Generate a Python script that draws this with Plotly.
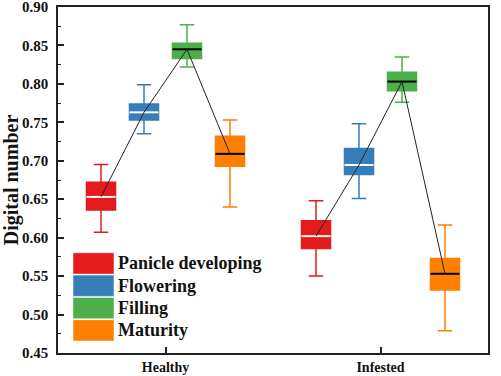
import plotly.graph_objects as go

groups = ["Healthy", "Infested"]
stages = ["Panicle developing", "Flowering", "Filling", "Maturity"]
colors = ["#E41A1C", "#377EB8", "#4DAF4A", "#FF7F00"]
median_colors = ["white", "white", "black", "black"]

# values per stage: [Healthy, Infested]
upper_panicle = [0.695, 0.648]
q3_panicle = [0.672, 0.622]
median_panicle = [0.653, 0.602]
q1_panicle = [0.636, 0.586]
lower_panicle = [0.607, 0.550]

upper_flowering = [0.799, 0.748]
q3_flowering = [0.774, 0.716]
median_flowering = [0.763, 0.6945]
q1_flowering = [0.753, 0.682]
lower_flowering = [0.735, 0.651]

upper_filling = [0.877, 0.835]
q3_filling = [0.853, 0.815]
median_filling = [0.845, 0.803]
q1_filling = [0.833, 0.791]
lower_filling = [0.822, 0.776]

upper_maturity = [0.753, 0.6165]
q3_maturity = [0.732, 0.573]
median_maturity = [0.709, 0.553]
q1_maturity = [0.693, 0.532]
lower_maturity = [0.640, 0.479]

y_ticks = [0.45, 0.50, 0.55, 0.60, 0.65, 0.70, 0.75, 0.80, 0.85, 0.90]

stats = [
    (upper_panicle, q3_panicle, median_panicle, q1_panicle, lower_panicle),
    (upper_flowering, q3_flowering, median_flowering, q1_flowering, lower_flowering),
    (upper_filling, q3_filling, median_filling, q1_filling, lower_filling),
    (upper_maturity, q3_maturity, median_maturity, q1_maturity, lower_maturity),
]

FONT = "Times New Roman, Liberation Serif, serif"
slot = 0.2
box_w = 0.135
offsets = [(i - 1.5) * slot for i in range(len(stages))]

fig = go.Figure()

positions = []
for i, (st, (up, q3, med, q1, lo)) in enumerate(zip(stages, stats)):
    xs = [g + offsets[i] for g in range(len(groups))]
    positions.append(xs)
    fig.add_trace(go.Box(
        x=xs, q1=q1, median=med, q3=q3, lowerfence=lo, upperfence=up,
        width=box_w, whiskerwidth=0.5, fillcolor=colors[i],
        line=dict(color=colors[i], width=1.5), name=st, showlegend=False,
        hoverinfo="skip",
    ))

# median segments
for i, (st, (up, q3, med, q1, lo)) in enumerate(zip(stages, stats)):
    mx, my = [], []
    for g in range(len(groups)):
        x = positions[i][g]
        mx += [x - box_w / 2, x + box_w / 2, None]
        my += [med[g], med[g], None]
    fig.add_trace(go.Scatter(x=mx, y=my, mode="lines",
                             line=dict(color=median_colors[i], width=2),
                             showlegend=False, hoverinfo="skip"))

# connecting lines through medians
for g in range(len(groups)):
    fig.add_trace(go.Scatter(
        x=[positions[i][g] for i in range(len(stages))],
        y=[stats[i][2][g] for i in range(len(stages))],
        mode="lines", line=dict(color="#222222", width=1),
        showlegend=False, hoverinfo="skip"))

# manual legend (paper coords)
L, R, T, B = 58, 488, 7, 353
W, H = R - L, B - T
def px_x(p): return (p - L) / W
def px_y(p): return (B - p) / H

row_top = 252.3
row_h = 22.3
shapes = []
annotations = []
for i, st in enumerate(stages):
    t = row_top + i * row_h
    shapes.append(dict(type="rect", xref="paper", yref="paper",
                       x0=px_x(73), x1=px_x(114), y0=px_y(t + row_h - 0.5), y1=px_y(t + 0.5),
                       fillcolor=colors[i], line=dict(color="rgba(255,255,255,0.5)", width=1),
                       layer="above"))
    annotations.append(dict(xref="paper", yref="paper", x=px_x(116), y=px_y(t + row_h / 2),
                            xanchor="left", yanchor="middle", showarrow=False,
                            text=st, font=dict(family=FONT, size=18, color="#111111", weight="bold")))

fig.update_layout(
    width=501, height=376,
    margin=dict(l=L, r=501 - R, t=T, b=376 - B, autoexpand=False),
    paper_bgcolor="white", plot_bgcolor="white",
    shapes=shapes, annotations=annotations,
    boxmode="overlay",
    xaxis=dict(range=[-0.5, 1.5], tickvals=[0, 1], ticktext=groups,
               ticks="inside", ticklen=6, tickwidth=1.5, tickcolor="#222",
               showline=True, linecolor="#222", linewidth=1.5, mirror=True,
               showgrid=False, zeroline=False, automargin=False,
               tickfont=dict(family=FONT, size=14, color="#111", weight="bold")),
    yaxis=dict(range=[0.45, 0.90], tickmode="array", tickvals=y_ticks,
               ticktext=[f"{v:.2f}" for v in y_ticks],
               ticks="inside", ticklen=6, tickwidth=1.5, tickcolor="#222",
               ticklabeloverflow="allow",
               minor=dict(ticks="inside", ticklen=3, tickwidth=1, tickcolor="#222",
                          tickmode="linear", tick0=0.425, dtick=0.05),
               showline=True, linecolor="#222", linewidth=1.5, mirror=True,
               showgrid=False, zeroline=False, ticklabelstandoff=5, automargin=False,
               tickfont=dict(family=FONT, size=15, color="#111", weight="bold"),
               title=dict(text="Digital number", standoff=4,
                          font=dict(family=FONT, size=20, color="#111", weight="bold"))),
)

fig.write_html("out.html", config={"displayModeBar": False},
               post_script="document.body.style.margin='0';")
